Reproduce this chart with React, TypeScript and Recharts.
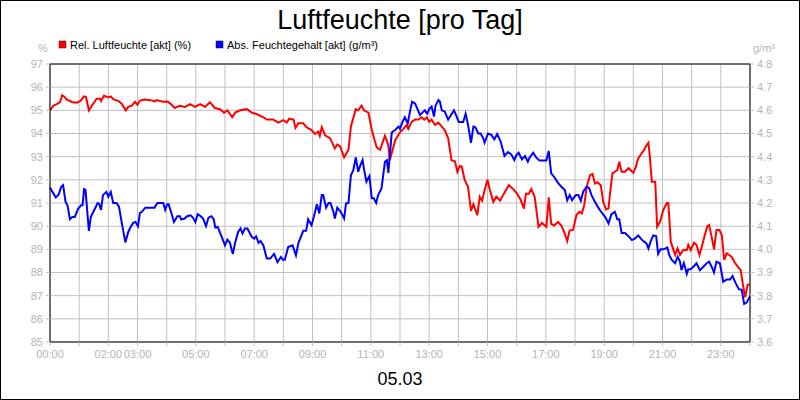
import React from "react";
import {
  LineChart, Line, XAxis, YAxis, CartesianGrid, ReferenceLine,
} from "recharts";

// minutes since midnight / relative humidity in %
const redMinutes = [
  0, 7, 17, 21, 25, 29, 34, 45, 55, 62, 70, 74, 80, 86, 96, 103, 105, 111, 120, 125,
  130, 141, 147, 156, 161, 168, 175, 180, 185, 195, 206, 216, 219, 233, 242, 247, 257, 267, 278, 288,
  298, 309, 319, 329, 339, 350, 358, 365, 375, 381, 391, 405, 415, 425, 439, 446, 459, 470, 480, 487,
  492, 501, 505, 511, 521, 528, 538, 545, 552, 555, 559, 566, 576, 586, 591, 597, 605, 614, 619, 629,
  634, 641, 646, 655, 662, 672, 679, 689, 696, 699, 710, 720, 727, 734, 737, 744, 751, 758, 764, 770,
  775, 780, 785, 792, 799, 806, 812, 819, 826, 833, 838, 843, 847, 853, 860, 866, 871, 879, 884, 889,
  894, 900, 905, 912, 918, 926, 932, 944, 953, 961, 968, 975, 979, 985, 990, 997, 1005, 1012, 1021, 1026,
  1031, 1037, 1045, 1052, 1059, 1064, 1069, 1076, 1083, 1089, 1094, 1099, 1104, 1111, 1116, 1121, 1126, 1133, 1138, 1144,
  1149, 1152, 1157, 1162, 1167, 1171, 1176, 1183, 1190, 1195, 1200, 1205, 1210, 1217, 1222, 1226, 1231, 1234, 1238, 1245,
  1249, 1255, 1262, 1269, 1272, 1277, 1286, 1291, 1296, 1303, 1310, 1313, 1318, 1325, 1330, 1336, 1341, 1347, 1352, 1356,
  1361, 1366, 1371, 1377, 1382, 1387, 1392, 1402, 1409, 1416, 1421, 1425, 1430, 1435, 1440,
];
const redValues = [
  95.0, 95.2, 95.3, 95.37, 95.65, 95.6, 95.47, 95.36, 95.33, 95.4, 95.6, 95.58, 95.0, 95.2, 95.5, 95.5, 95.4, 95.63, 95.56, 95.6,
  95.48, 95.4, 95.3, 95.0, 95.15, 95.2, 95.37, 95.24, 95.42, 95.47, 95.44, 95.39, 95.44, 95.37, 95.38, 95.3, 95.1, 95.2, 95.15, 95.27,
  95.15, 95.27, 95.15, 95.35, 95.1, 95.05, 94.9, 95.0, 94.7, 94.9, 95.0, 95.05, 94.9, 94.84, 94.7, 94.6, 94.6, 94.47, 94.58, 94.47,
  94.64, 94.6, 94.24, 94.44, 94.44, 94.27, 94.15, 93.98, 94.08, 93.9, 94.27, 93.92, 93.8, 93.36, 93.53, 93.43, 92.97, 93.3, 94.3, 95.05,
  95.0, 95.2, 95.0, 94.9, 94.15, 93.4, 93.3, 93.9, 93.5, 92.85, 93.7, 94.05, 94.2, 94.37, 94.2, 94.5, 94.6, 94.6, 94.7, 94.6,
  94.7, 94.5, 94.6, 94.37, 94.47, 94.3, 94.15, 93.8, 92.85, 92.8, 92.35, 92.6, 92.57, 92.0, 91.7, 90.66, 90.95, 90.47, 91.27, 91.1,
  91.55, 92.0, 91.55, 91.05, 91.27, 91.1, 91.34, 91.77, 91.6, 91.4, 91.15, 90.76, 91.4, 91.4, 91.6, 91.27, 89.97, 90.14, 89.97, 91.24,
  90.1, 90.03, 90.18, 90.03, 89.68, 89.36, 89.82, 89.84, 90.48, 90.62, 90.55, 90.9, 91.7, 92.2, 92.25, 91.84, 91.9, 91.77, 91.05, 90.72,
  90.77, 91.41, 92.28, 92.35, 92.42, 92.78, 92.35, 92.35, 92.5, 92.4, 92.3, 92.56, 92.92, 93.14, 93.28, 93.45, 93.6, 92.99, 91.92, 91.92,
  89.98, 90.2, 90.72, 91.0, 91.0, 89.33, 88.76, 89.04, 88.76, 88.97, 88.97, 89.19, 88.97, 89.29, 89.19, 88.76, 89.12, 89.62, 89.98, 90.05,
  89.55, 89.0, 89.83, 89.83, 89.62, 88.54, 88.83, 88.68, 88.42, 88.22, 88.1, 87.53, 86.93, 87.46, 87.5,
];

// minutes since midnight / absolute humidity in g/m³
const blueMinutes = [
  0, 5, 12, 18, 23, 27, 32, 36, 41, 46, 51, 58, 64, 67, 70, 73, 80, 84, 91, 98,
  101, 105, 109, 116, 120, 125, 130, 137, 142, 148, 155, 161, 166, 171, 176, 181, 185, 189, 196, 209,
  215, 221, 233, 237, 241, 244, 250, 255, 262, 267, 270, 277, 282, 289, 294, 299, 304, 310, 315, 321,
  326, 332, 337, 340, 345, 352, 360, 365, 370, 376, 381, 387, 392, 396, 401, 406, 415, 420, 424, 429,
  433, 439, 446, 453, 461, 468, 475, 479, 483, 490, 499, 506, 511, 521, 527, 531, 538, 543, 549, 554,
  559, 562, 568, 573, 577, 583, 586, 591, 598, 605, 609, 614, 619, 624, 629, 634, 638, 643, 646, 651,
  657, 662, 666, 671, 675, 682, 689, 693, 696, 703, 710, 717, 720, 725, 730, 736, 741, 745, 751, 756,
  761, 766, 771, 776, 780, 785, 790, 793, 799, 802, 806, 812, 819, 825, 831, 836, 841, 850, 855, 860,
  866, 871, 875, 881, 886, 891, 894, 901, 908, 914, 920, 927, 935, 942, 949, 955, 959, 964, 971, 977,
  983, 987, 994, 1000, 1007, 1021, 1026, 1031, 1037, 1045, 1052, 1059, 1064, 1069, 1074, 1079, 1082, 1087, 1092, 1097,
  1104, 1109, 1114, 1121, 1128, 1135, 1142, 1149, 1155, 1162, 1167, 1171, 1176, 1183, 1190, 1197, 1203, 1210, 1217, 1222,
  1227, 1231, 1236, 1241, 1247, 1251, 1256, 1262, 1270, 1274, 1279, 1286, 1291, 1296, 1299, 1304, 1310, 1313, 1318, 1325,
  1330, 1337, 1344, 1351, 1356, 1361, 1366, 1371, 1378, 1385, 1392, 1399, 1404, 1410, 1417, 1423, 1428, 1433, 1440,
];
const blueValues = [
  4.267, 4.248, 4.224, 4.237, 4.27, 4.277, 4.205, 4.19, 4.13, 4.14, 4.14, 4.176, 4.19, 4.19, 4.26, 4.257, 4.08, 4.14, 4.17, 4.2,
  4.197, 4.17, 4.234, 4.248, 4.227, 4.248, 4.2, 4.2, 4.183, 4.11, 4.03, 4.075, 4.097, 4.114, 4.118, 4.1, 4.157, 4.162, 4.18, 4.18,
  4.18, 4.2, 4.2, 4.17, 4.195, 4.195, 4.155, 4.118, 4.143, 4.143, 4.129, 4.133, 4.143, 4.147, 4.137, 4.118, 4.152, 4.143, 4.133, 4.1,
  4.137, 4.143, 4.129, 4.094, 4.097, 4.06, 4.017, 4.042, 4.03, 3.98, 4.03, 4.075, 4.09, 4.068, 4.09, 4.09, 4.054, 4.046, 4.056, 4.028,
  4.036, 4.017, 3.96, 3.96, 3.98, 3.945, 3.967, 3.955, 3.955, 4.01, 4.017, 3.974, 4.027, 4.08, 4.08, 4.13, 4.104, 4.143, 4.195, 4.155,
  4.234, 4.234, 4.18, 4.2, 4.2, 4.162, 4.133, 4.18, 4.162, 4.133, 4.198, 4.2, 4.32, 4.342, 4.397, 4.335, 4.36, 4.386, 4.345, 4.292,
  4.316, 4.22, 4.22, 4.2, 4.234, 4.263, 4.378, 4.385, 4.33, 4.504, 4.515, 4.53, 4.52, 4.55, 4.57, 4.544, 4.6, 4.637, 4.63, 4.605,
  4.58, 4.59, 4.6, 4.585, 4.605, 4.616, 4.573, 4.62, 4.645, 4.638, 4.6, 4.595, 4.56, 4.58, 4.6, 4.576, 4.55, 4.55, 4.585, 4.537,
  4.46, 4.53, 4.527, 4.5, 4.5, 4.48, 4.46, 4.5, 4.494, 4.475, 4.498, 4.465, 4.403, 4.42, 4.41, 4.385, 4.406, 4.417, 4.388, 4.403,
  4.378, 4.397, 4.417, 4.397, 4.383, 4.383, 4.425, 4.328, 4.313, 4.287, 4.27, 4.256, 4.212, 4.234, 4.212, 4.227, 4.234, 4.234, 4.21, 4.25,
  4.27, 4.265, 4.234, 4.205, 4.18, 4.158, 4.14, 4.112, 4.152, 4.162, 4.13, 4.13, 4.07, 4.07, 4.057, 4.04, 4.046, 4.06, 4.043, 4.033,
  4.026, 4.004, 4.037, 4.06, 4.057, 3.98, 4.0, 4.0, 4.008, 3.975, 3.954, 3.94, 3.968, 3.947, 3.91, 3.94, 3.894, 3.914, 3.914, 3.928,
  3.94, 3.91, 3.925, 3.94, 3.947, 3.925, 3.9, 3.947, 3.94, 3.86, 3.87, 3.87, 3.885, 3.856, 3.828, 3.825, 3.764, 3.77, 3.796,
];

const hourTicks = [
  0, 60, 120, 180, 240, 300, 360, 420, 480, 540, 600, 660, 720,
  780, 840, 900, 960, 1020, 1080, 1140, 1200, 1260, 1320, 1380, 1440,
];
const shownHours = ["00:00", "02:00", "03:00", "05:00", "07:00", "09:00", "11:00", "13:00", "15:00", "17:00", "19:00", "21:00", "23:00"];
const leftTicks = [85, 86, 87, 88, 89, 90, 91, 92, 93, 94, 95, 96, 97];
const rightTicks = [3.6, 3.7, 3.8, 3.9, 4.0, 4.1, 4.2, 4.3, 4.4, 4.5, 4.6, 4.7, 4.8];

const redData = redMinutes.map((t, i) => ({ t, v: redValues[i] }));
const blueData = blueMinutes.map((t, i) => ({ t, v: blueValues[i] }));

const FONT = "'Liberation Sans', Arial, sans-serif";
const LABEL = "#b4b4b4";
const GRID = "#c0c0c0";

function hourLabel(m: number) {
  const h = String(Math.floor(m / 60)).padStart(2, "0") + ":00";
  return shownHours.includes(h) ? h : "";
}

export default function App() {
  const tickStyle = { fontSize: 11, fill: LABEL, fontFamily: FONT };
  return (
    <div style={{ position: "absolute", left: 0, top: 0, width: 800, height: 400, background: "#fff" }}>
      <LineChart width={800} height={400} margin={{ top: 64, right: 0, bottom: 0, left: 0 }}>
        <CartesianGrid yAxisId="left" stroke={GRID} strokeWidth={1} />
        <XAxis
          dataKey="t"
          type="number"
          domain={[0, 1440]}
          ticks={hourTicks}
          tickFormatter={hourLabel}
          interval={0}
          height={58}
          tick={tickStyle}
          tickSize={4}
          tickMargin={4}
          tickLine={{ stroke: GRID }}
          axisLine={{ stroke: "#000" }}
          allowDuplicatedCategory={false}
        />
        <YAxis
          yAxisId="left"
          orientation="left"
          domain={[85, 97]}
          ticks={leftTicks}
          interval={0}
          width={50}
          tick={tickStyle}
          tickSize={4}
          tickMargin={3}
          tickLine={{ stroke: GRID }}
          axisLine={{ stroke: "#000" }}
        />
        <YAxis
          yAxisId="right"
          orientation="right"
          domain={[3.6, 4.8]}
          ticks={rightTicks}
          interval={0}
          width={50}
          tick={tickStyle}
          tickFormatter={(v: number) => v.toFixed(1)}
          tickSize={4}
          tickMargin={3}
          tickLine={{ stroke: GRID }}
          axisLine={{ stroke: "#000" }}
        />
        <ReferenceLine yAxisId="left" y={97} stroke="#000" />
        <Line
          yAxisId="left"
          data={redData}
          dataKey="v"
          type="linear"
          stroke="#ff0000"
          strokeWidth={2}
          dot={false}
          isAnimationActive={false}
        />
        <Line
          yAxisId="right"
          data={blueData}
          dataKey="v"
          type="linear"
          stroke="#0000ff"
          strokeWidth={2}
          dot={false}
          isAnimationActive={false}
        />
      </LineChart>
      <svg
        width={800}
        height={400}
        style={{ position: "absolute", left: 0, top: 0, pointerEvents: "none" }}
        fontFamily={FONT}
      >
        <text x={400} y={29} textAnchor="middle" fontSize={27} fill="#000">Luftfeuchte [pro Tag]</text>
        <rect x={59} y={41} width={7} height={7} fill="#ff0000" stroke="#600" strokeWidth={0.5} />
        <text x={70} y={49} fontSize={11} fill="#000">Rel. Luftfeuchte [akt] (%)</text>
        <rect x={216} y={41} width={7} height={7} fill="#0000ff" stroke="#006" strokeWidth={0.5} />
        <text x={227} y={49} fontSize={11} fill="#000">Abs. Feuchtegehalt [akt] (g/m³)</text>
        <text x={43} y={52} textAnchor="middle" fontSize={11} fill={LABEL}>%</text>
        <text x={753} y={52} fontSize={11} fill={LABEL}>g/m³</text>
        <text x={400} y={385} textAnchor="middle" fontSize={18} fill="#000">05.03</text>
        <rect x={0.5} y={0.5} width={799} height={399} fill="none" stroke="#000" />
      </svg>
    </div>
  );
}
